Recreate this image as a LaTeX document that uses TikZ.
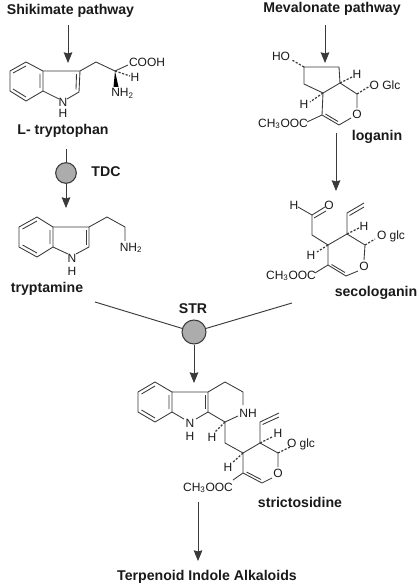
\documentclass[tikz,border=0pt]{standalone}
\usepackage{xcolor}
\usepackage{fontspec}
\setmainfont{Liberation Sans}
\usepackage{tikz}
\usetikzlibrary{arrows.meta,positioning,calc}
\definecolor{bondgrey}{HTML}{3A3A3A}
\definecolor{enzfill}{HTML}{ACACAC}
\definecolor{inkblack}{HTML}{1A1A1A}

\begin{document}
\begin{tikzpicture}[
  x=0.75pt, y=-0.75pt,
  >={Stealth[length=8pt,width=6.5pt,inset=0.8pt]},
  title/.style={font=\fontsize{10.6}{12}\selectfont\bfseries, text=inkblack, inner sep=0pt},
  atom/.style={font=\fontsize{9}{10}\selectfont, text=inkblack, inner sep=0pt},
  enzyme/.style={circle, draw=bondgrey, fill=enzfill, line width=.8pt, inner sep=0pt},
  bond/.style={bondgrey, line width=.65pt, line join=round},
  hash/.style={bondgrey, line width=.9pt, dash pattern=on 1.6pt off 1.2pt},
  wedge/.style={fill=black, draw=none},
  flow/.style={->, bondgrey, line width=.7pt},
  plain/.style={bondgrey, line width=.7pt},
]
\useasboundingbox[fill=white] (0,0) rectangle (418,585);

% --- Pathway labels and compound names ---
\node[title] (shik) at (70.5,11) {Shikimate pathway};
\node[title] (meva) at (332,9) {Mevalonate pathway};
\node[title] (trp)  at (63,131) {L- tryptophan};
\node[title] (tryp) at (47,289) {tryptamine};
\node[title] (log)  at (377,137) {loganin};
\node[title] (seco) at (376,293) {secologanin};
\node[title] (stri) at (300,502) {strictosidine};
\node[title] (tia)  at (207,577) {Terpenoid Indole Alkaloids};
\node[title] (tdc)  at (106,172) {TDC};
\node[title] (str)  at (193,309) {STR};

% --- Enzyme circles ---
\node[enzyme, minimum size=15.5pt] (tdccirc) at (66,173) {};
\node[enzyme, minimum size=18pt]   (strcirc) at (194,332) {};

% --- Free ends of the arrows ---
\coordinate (a1) at (68,25);
\coordinate (a2) at (68,63);
\coordinate (a3) at (66,149);
\coordinate (a4) at (66,208);
\coordinate (a5) at (325,25);
\coordinate (a6) at (325,63);
\coordinate (a7) at (336,133);
\coordinate (a8) at (336,191);
\coordinate (a9) at (95,302);
\coordinate (a10) at (292,303);
\coordinate (a11) at (194,383);
\coordinate (a12) at (198,502);
\coordinate (a13) at (198,561);

% --- Arrows ---
\draw[flow] (a1) -- (a2);
\draw[plain] (a3) -- (tdccirc);
\draw[flow] (tdccirc) -- (a4);
\draw[flow] (a5) -- (a6);
\draw[flow] (a7) -- (a8);
\draw[plain] (a9) -- (strcirc);
\draw[plain] (a10) -- (strcirc);
\draw[flow] (strcirc) -- (a11);
\draw[flow] (a12) -- (a13);

% --- L-tryptophan ---
\draw[bond] (26,62) -- (43,71) -- (43,91) -- (26,101) -- (10,91) -- (10,71) -- cycle;
\draw[bond] (13,73) -- (26,66) (40,74) -- (40,88) (13,89) -- (26,97);
\draw[bond] (43,71) -- (80,71) -- (79,92) -- (67,99) (59,99) -- (43,91);
\draw[bond] (76.5,74) -- (76,89.5);
\draw[bond] (80,71) -- (96,62) -- (115,71) -- (128,65);
\draw[hash] (115,71) -- (130,76);
\fill[wedge] (115,71) -- (113.5,87) -- (118.5,87) -- cycle;
\node[atom] (trpcooh) at (147,62.5) {COOH};
\node[atom] (trph)    at (135,77.5) {H};
\node[atom] (trpnh)   at (122.5,93.5) {NH\textsubscript{2}};
\node[atom] (trpn)    at (63,102) {N};
\node[atom] (trpnhh)  at (63,113) {H};

% --- Tryptamine ---
\draw[bond] (37,217) -- (53,227) -- (53,247) -- (37,257) -- (19,247) -- (19,227) -- cycle;
\draw[bond] (22.5,229) -- (37,221) (50,230) -- (50,244) (22.5,245) -- (37,253);
\draw[bond] (53,227) -- (89,227) -- (89,247) -- (76,254) (68,254) -- (53,247);
\draw[bond] (86,230) -- (86,244.5);
\draw[bond] (89,227) -- (107,217) -- (125,227) -- (125,241);
\node[atom] (tryn)   at (72,258) {N};
\node[atom] (trynh)  at (72,271) {H};
\node[atom] (trynh2) at (131,248) {NH\textsubscript{2}};

% --- Loganin ---
\draw[bond] (304,67) -- (339,67) -- (340,83) -- (323,93) -- (304,84) -- cycle;
\draw[bond] (340,83) -- (357,94) -- (357,108) (351,118) -- (339,125) -- (322,115) -- (323,93);
\draw[bond] (338,121.5) -- (325.5,114) (322,115) -- (307,122);
\draw[hash] (304,67) -- (292,60);
\draw[hash] (340,83) -- (352,77);
\draw[hash] (357,94) -- (370,86);
\draw[hash] (323,93) -- (310,102);
\node[atom] (logho) at (281,56) {HO};
\node[atom] (logh1) at (357,74.5) {H};
\node[atom] (logo)  at (385,85) {O Glc};
\node[atom] (logh2) at (304,104.5) {H};
\node[atom] (logr)  at (357,114) {O};
\node[atom] (logco) at (283,124) {CH\textsubscript{3}OOC};

% --- Secologanin ---
\draw[bond] (298,207) -- (312,215) -- (312,235) -- (328,245) -- (347,234) -- (365,245) -- (364,260);
\draw[bond] (312,215) -- (325,207) (314,218) -- (326,211);
\draw[bond] (358,271) -- (346,276) -- (328,265) -- (328,245) (328,265) -- (315,273);
\draw[bond] (345,272.5) -- (331.5,264.5);
\draw[bond] (347,234) -- (347,213) -- (364,203) (349.5,215.5) -- (364,207);
\draw[hash] (347,234) -- (359,228);
\draw[hash] (365,245) -- (375,239);
\draw[hash] (328,245) -- (317,252);
\node[atom] (secoh)  at (294,205) {H};
\node[atom] (secoo)  at (329,205) {O};
\node[atom] (secoh1) at (364,226) {H};
\node[atom] (secog)  at (391,236) {O glc};
\node[atom] (secoh2) at (311,255.5) {H};
\node[atom] (secor)  at (364,266) {O};
\node[atom] (secoco) at (291,276) {CH\textsubscript{3}OOC};

% --- Strictosidine ---
\draw[bond] (155,382) -- (172,392) -- (172,412) -- (155,422) -- (138,412) -- (138,392) -- cycle;
\draw[bond] (141.5,394) -- (155,386) (169,395) -- (169,409) (141.5,410) -- (155,418);
\draw[bond] (172,392) -- (208,392) -- (208,412) -- (196,419) (184,419) -- (172,412);
\draw[bond] (205,395) -- (205,409);
\draw[bond] (208,392) -- (225,382) -- (243,392) -- (243,405) (238,416) -- (225,422) -- (208,412);
\draw[bond] (225,422) -- (225,443) -- (243,453) -- (260,443) -- (278,453) -- (278,467);
\draw[bond] (272,478) -- (262,483) -- (243,473) -- (243,453) (243,473) -- (233,480);
\draw[bond] (261,479.5) -- (246.5,472);
\draw[bond] (260,443) -- (260,422) -- (279,413) (262.5,424.5) -- (279,417);
\draw[hash] (225,422) -- (215,432);
\draw[hash] (260,443) -- (272,437);
\draw[hash] (278,453) -- (290,447);
\draw[hash] (243,453) -- (232,463);
\node[atom] (strn)  at (190,423) {N};
\node[atom] (strnh) at (190,436) {H};
\node[atom] (strnn) at (248,413) {NH};
\node[atom] (strh1) at (212,437.5) {H};
\node[atom] (strh2) at (278,433) {H};
\node[atom] (strg)  at (301,444) {O glc};
\node[atom] (strh3) at (228,467) {H};
\node[atom] (strr)  at (278,473) {O};
\node[atom] (strco) at (208,488) {CH\textsubscript{3}OOC};

\end{tikzpicture}
\end{document}
